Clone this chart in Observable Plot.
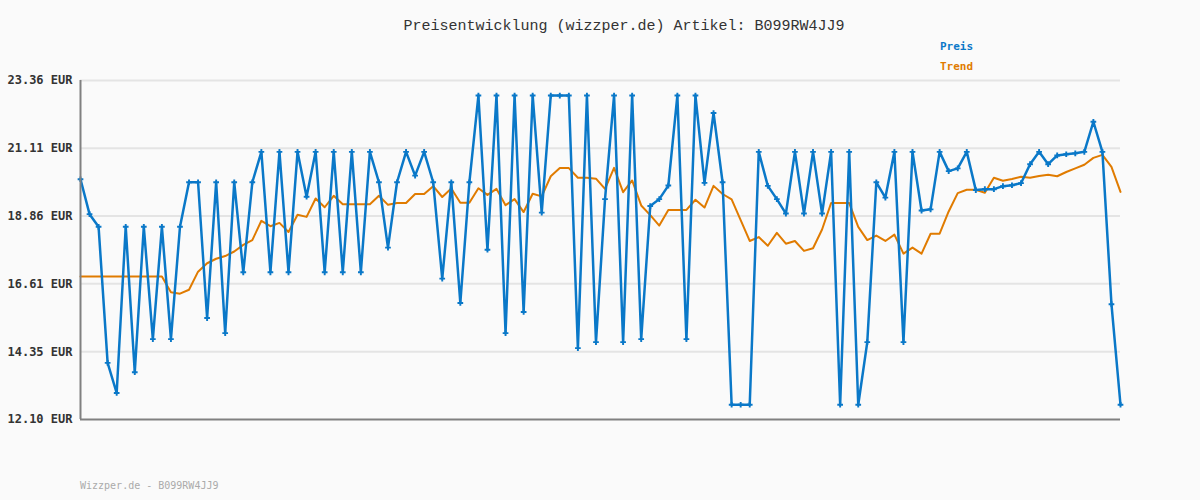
<!DOCTYPE html>
<html>
<head>
<meta charset="utf-8">
<script src="https://cdn.jsdelivr.net/npm/d3@7"></script>
<script src="https://cdn.jsdelivr.net/npm/@observablehq/plot@0.6"></script>
<style>
  html, body { margin: 0; padding: 0; background: #fafafa; }
  #wrap { position: relative; width: 1200px; height: 500px; background: #fafafa; overflow: hidden; }
  .t { position: absolute; white-space: pre; }
  #title { left: 0; width: 1248px; top: 18px; text-align: center; font: 15px "Liberation Mono", "DejaVu Sans Mono", monospace; color: #333; }
  .leg { left: 940px; font: bold 11px "DejaVu Sans Mono", monospace; }
  #footer { left: 80px; top: 480px; font: 10px "DejaVu Sans Mono", monospace; color: #aaa; }
  #chart { position: absolute; left: 0; top: 0; }
</style>
</head>
<body>
<div id="wrap">
  <div id="chart"></div>
  <div class="t" id="title">Preisentwicklung (wizzper.de) Artikel: B099RW4JJ9</div>
  <div class="t leg" style="top:40px;color:#0a78c8">Preis</div>
  <div class="t leg" style="top:60px;color:#e07b00">Trend</div>
  <div class="t" id="footer">Wizzper.de - B099RW4JJ9</div>
</div>
<script>
const preis = [
  20.08, 18.92, 18.50, 13.98, 12.98, 18.50, 13.67, 18.50, 14.77, 18.50,
  14.77, 18.50, 19.98, 19.98, 15.47, 19.98, 14.97, 19.98, 16.99, 19.98,
  20.99, 16.99, 20.99, 16.99, 20.99, 19.50, 20.99, 16.99, 20.99, 16.99,
  20.99, 16.99, 20.99, 19.98, 17.81, 19.98, 20.99, 20.20, 20.99, 19.98,
  16.78, 19.98, 15.97, 19.98, 22.86, 17.74, 22.86, 14.97, 22.86, 15.67,
  22.86, 18.97, 22.86, 22.86, 22.86, 14.47, 22.86, 14.67, 19.42, 22.86,
  14.67, 22.86, 14.77, 19.19, 19.42, 19.87, 22.86, 14.77, 22.86, 19.96,
  22.28, 19.98, 12.59, 12.59, 12.59, 20.99, 19.86, 19.42, 18.94, 20.99,
  18.94, 20.99, 18.94, 20.99, 12.59, 20.99, 12.59, 14.67, 19.98, 19.47,
  20.99, 14.67, 20.99, 19.04, 19.08, 20.99, 20.35, 20.44, 20.99, 19.72,
  19.75, 19.75, 19.85, 19.88, 19.95, 20.58, 20.99, 20.58, 20.87, 20.91,
  20.94, 20.99, 21.99, 20.99, 15.93, 12.59
];
const trend = [
  16.85, 16.85, 16.85, 16.85, 16.85, 16.85, 16.85, 16.85, 16.85, 16.85,
  16.33, 16.28, 16.41, 17.01, 17.29, 17.44, 17.53, 17.68, 17.90, 18.06,
  18.70, 18.52, 18.63, 18.33, 18.90, 18.83, 19.44, 19.15, 19.53, 19.25,
  19.25, 19.25, 19.25, 19.53, 19.23, 19.29, 19.29, 19.59, 19.59, 19.85,
  19.49, 19.77, 19.30, 19.30, 19.78, 19.56, 19.76, 19.22, 19.42, 18.99,
  19.60, 19.51, 20.18, 20.45, 20.45, 20.13, 20.13, 20.10, 19.76, 20.46,
  19.65, 20.04, 19.21, 18.89, 18.54, 19.06, 19.06, 19.06, 19.40, 19.14,
  19.86, 19.59, 19.41, 18.72, 18.03, 18.16, 17.87, 18.30, 17.94, 18.03,
  17.70, 17.79, 18.41, 19.29, 19.29, 19.29, 18.50, 18.06, 18.21, 18.03,
  18.24, 17.61, 17.81, 17.61, 18.27, 18.27, 19.01, 19.62, 19.73, 19.73,
  19.63, 20.13, 20.03, 20.09, 20.16, 20.13, 20.19, 20.23, 20.18, 20.32,
  20.44, 20.56, 20.79, 20.89, 20.49, 19.66
];
const yTicks = [12.10, 14.35, 16.61, 18.86, 21.11, 23.36];

const dataP = preis.map((v, i) => ({i, v}));
const dataT = trend.map((v, i) => ({i, v}));

const chart = Plot.plot({
  width: 1200,
  height: 500,
  marginLeft: 80,
  marginRight: 80,
  marginTop: 80,
  marginBottom: 81,
  style: { background: "transparent", overflow: "visible" },
  x: { domain: [0, preis.length - 1], axis: null },
  y: { domain: [12.10, 23.36], ticks: yTicks, tickFormat: d => d.toFixed(2) + " EUR", label: null, tickSize: 0, tickPadding: 8 },
  marks: [
    Plot.ruleY(yTicks.slice(1), { stroke: "#e4e4e4", strokeWidth: 2 }),
    Plot.axisY({ ticks: yTicks, tickFormat: d => d.toFixed(2) + " EUR", tickSize: 0, tickPadding: 8, label: null,
      fontFamily: "DejaVu Sans Mono, monospace", fontSize: 12, fontWeight: "bold", fill: "#333" }),
    Plot.line(dataT, { x: "i", y: "v", stroke: "#e07b00", strokeWidth: 2 }),
    Plot.line(dataP, { x: "i", y: "v", stroke: "#0a78c8", strokeWidth: 2.5, curve: "linear" }),
    Plot.dot(dataP, { x: "i", y: "v", symbol: "cross", fill: "#0a78c8", r: 2.4 }),
    Plot.ruleX([0], { stroke: "#808080", strokeWidth: 2 }),
    Plot.ruleY([12.10], { stroke: "#808080", strokeWidth: 2 })
  ]
});
document.getElementById("chart").appendChild(chart);
</script>
</body>
</html>
